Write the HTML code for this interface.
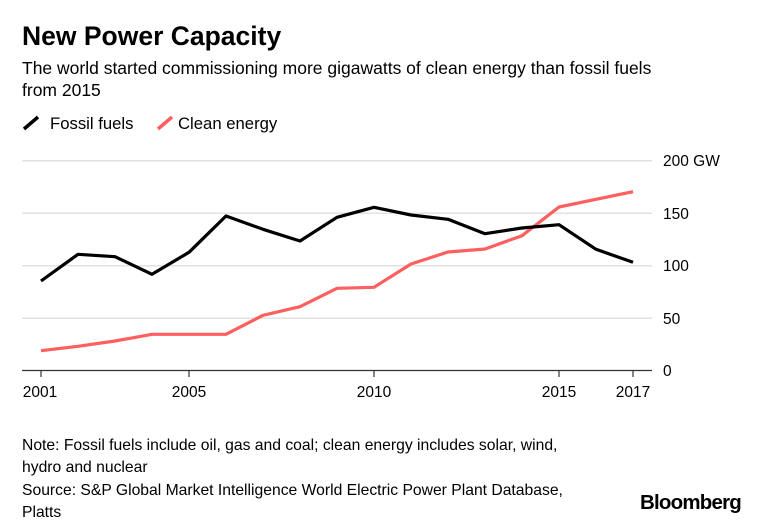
<!DOCTYPE html>
<html><head><meta charset="utf-8"><style>
body{margin:0;background:#fff;width:760px;height:523px;overflow:hidden;font-family:"Liberation Sans",Arial,sans-serif;color:#000}
svg{position:absolute;left:0;top:0}
</style></head><body>
<svg width="760" height="523" xmlns="http://www.w3.org/2000/svg" font-family="Liberation Sans, Arial, sans-serif">
<text x="22" y="45" font-size="26.5" font-weight="bold">New Power Capacity</text>
<text x="22" y="74" font-size="17.5">The world started commissioning more gigawatts of clean energy than fossil fuels</text>
<text x="22" y="96" font-size="17.5">from 2015</text>
<path d="M24 129 L38 117" stroke="#000" stroke-width="3.5"/>
<text x="50" y="129" font-size="16.7">Fossil fuels</text>
<path d="M158 129 L172 117" stroke="#ff5f5f" stroke-width="3.5"/>
<text x="178" y="129" font-size="16.7">Clean energy</text>
<g stroke="#e2e2e2" stroke-width="1.5">
<line x1="22" x2="652" y1="160.7" y2="160.7"/><line x1="22" x2="652" y1="213.3" y2="213.3"/><line x1="22" x2="652" y1="265.7" y2="265.7"/><line x1="22" x2="652" y1="318.3" y2="318.3"/>
</g>
<line x1="22" x2="652" y1="370.5" y2="370.5" stroke="#333" stroke-width="1.2"/>
<g stroke="#333" stroke-width="1.2">
<line x1="41" x2="41" y1="370" y2="377"/><line x1="189" x2="189" y1="370" y2="377"/><line x1="374" x2="374" y1="370" y2="377"/><line x1="559" x2="559" y1="370" y2="377"/><line x1="633" x2="633" y1="370" y2="377"/>
</g>
<g font-size="15.5">
<text x="663" y="166">200 GW</text><text x="663" y="219">150</text><text x="663" y="271">100</text><text x="663" y="324">50</text><text x="663" y="376">0</text>
</g>
<g font-size="15.5" text-anchor="middle">
<text x="40" y="397">2001</text><text x="189" y="397">2005</text><text x="374" y="397">2010</text><text x="559" y="397">2015</text><text x="633" y="397">2017</text>
</g>
<polyline fill="none" stroke="#ff5f5f" stroke-width="3.2" stroke-linejoin="round" points="41,350.7 78,346.3 115,341 152,334.3 189,334.3 226,334.3 263,315.3 300,306.7 337,288.3 374,287.3 411,264 448,252 485,249 522,235.7 559,207 596,199.3 633,191.7"/>
<polyline fill="none" stroke="#000" stroke-width="3.2" stroke-linejoin="round" points="41,281 78,254.3 115,256.7 152,274.3 189,252.3 226,216 263,229.3 300,241 337,217.3 374,207.3 411,215 448,219.3 485,233.7 522,228 559,224.7 596,249.3 633,262.3"/>
<g font-size="15.7">
<text x="22" y="450">Note: Fossil fuels include oil, gas and coal; clean energy includes solar, wind,</text>
<text x="22" y="472">hydro and nuclear</text>
<text x="22" y="495">Source: S&amp;P Global Market Intelligence World Electric Power Plant Database,</text>
<text x="22" y="517">Platts</text>
</g>
<text x="741" y="509" font-size="20.5" font-weight="bold" text-anchor="end" letter-spacing="-0.8">Bloomberg</text>
</svg>
</body></html>
